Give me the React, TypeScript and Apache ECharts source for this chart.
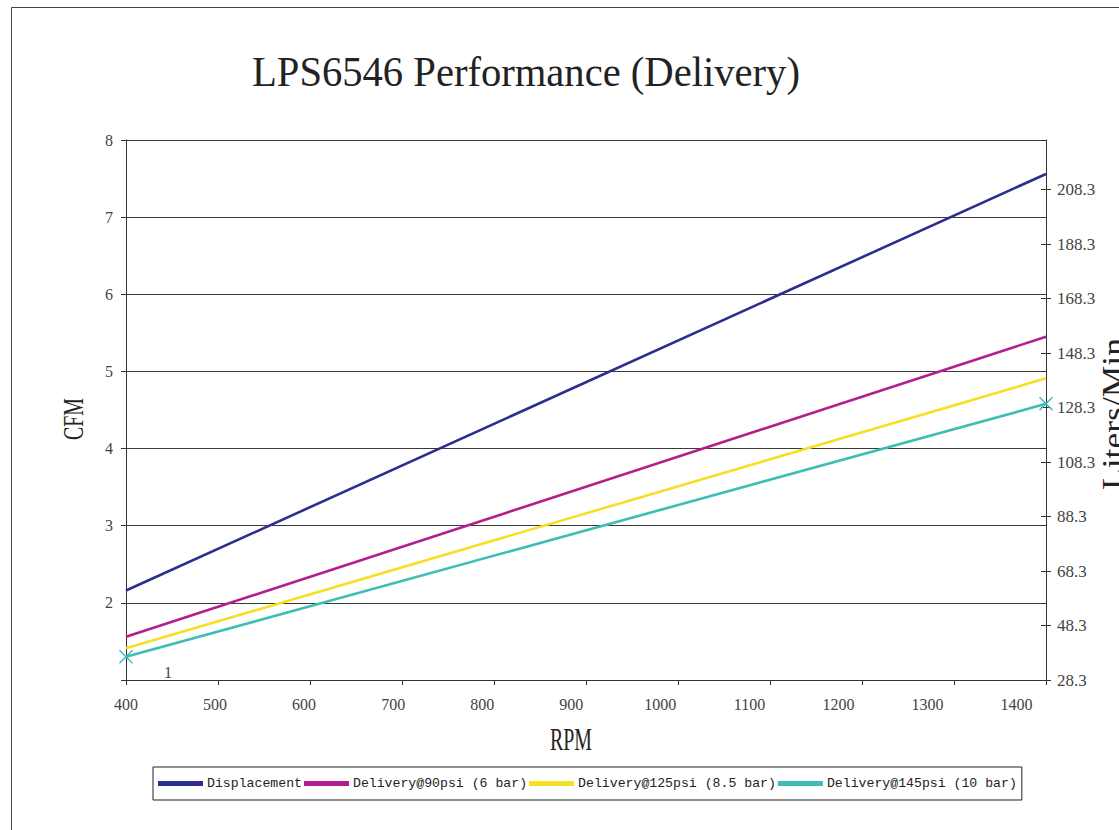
import React, { useEffect, useRef } from "react";
import * as echarts from "echarts";

const rpm = [400, 1400];
const displacement = [2.16, 7.56];
const delivery90 = [1.56, 5.45];
const delivery125 = [1.41, 4.91];
const delivery145 = [1.3, 4.58];

const seriesNames = [
  "Displacement",
  "Delivery@90psi (6 bar)",
  "Delivery@125psi (8.5 bar)",
  "Delivery@145psi (10 bar)",
];
const seriesColors = ["#2B2E8E", "#B41E8C", "#F5E024", "#3DBDB6"];

const titleText = "LPS6546 Performance (Delivery)";
const cfmMin = 1;
const cfmMax = 8;
const litersPerCfm = 28.317;
const litersStep = 20;

const MONO = "'Liberation Mono', monospace";
const SERIF = "'Liberation Serif', serif";

function measure(text: string, size: number, family: string) {
  const c = document.createElement("canvas");
  const ctx = c.getContext("2d");
  if (!ctx) return text.length * size * 0.5;
  ctx.font = `${size}px ${family}`;
  return ctx.measureText(text).width || text.length * size * 0.5;
}

function stretched(
  text: string,
  x: number,
  y: number,
  targetWidth: number,
  size: number,
  align: "left" | "center",
  rotation = 0
) {
  const w = measure(text, size, SERIF);
  return {
    type: "text",
    x,
    y,
    rotation,
    scaleX: targetWidth / w,
    scaleY: 1,
    style: {
      text,
      fontFamily: SERIF,
      fontSize: size,
      fill: "#222",
      align,
      verticalAlign: "middle",
    },
  };
}

export default function App() {
  const ref = useRef<HTMLDivElement>(null);

  useEffect(() => {
    if (!ref.current) return;
    const chart = echarts.init(ref.current, null, { renderer: "svg" });
    const pairs = (ys: number[]) => rpm.map((x, i) => [x, ys[i]]);
    const all = [displacement, delivery90, delivery125, delivery145];

    const rightAxisBase = {
      type: "value" as const,
      position: "right" as const,
      min: cfmMin * litersPerCfm,
      max: cfmMax * litersPerCfm,
      interval: litersStep,
      splitLine: { show: false },
    };

    chart.setOption({
      animation: false,
      backgroundColor: "#fff",
      grid: { left: 126, right: 73, top: 140, bottom: 150, containLabel: false },
      legend: {
        left: 153,
        top: 767,
        orient: "horizontal",
        icon: "rect",
        itemWidth: 43,
        itemHeight: 3,
        itemGap: 2,
        padding: [10, 5, 10, 5],
        borderColor: "#222",
        borderWidth: 1,
        textStyle: { fontFamily: MONO, fontSize: 13.2, color: "#222" },
        data: seriesNames,
      },
      xAxis: [
        {
          type: "value",
          min: 400,
          max: 1400,
          interval: 100,
          axisLine: { show: true, lineStyle: { color: "#333", width: 1 } },
          axisTick: { show: true, inside: false, length: 5, lineStyle: { color: "#333" } },
          axisLabel: { show: false },
          splitLine: { show: false },
        },
        {
          type: "value",
          position: "bottom",
          min: 400,
          max: 1433,
          interval: 100,
          axisLine: { show: false },
          axisTick: { show: false },
          splitLine: { show: false },
          axisLabel: {
            show: true,
            margin: 16,
            showMaxLabel: false,
            fontFamily: SERIF,
            fontSize: 16,
            color: "#444",
            formatter: (v: number) => String(v),
          },
        },
      ],
      yAxis: [
        {
          type: "value",
          position: "left",
          min: cfmMin,
          max: cfmMax,
          interval: 1,
          axisLine: { show: true, lineStyle: { color: "#333", width: 1 } },
          axisTick: { show: true, inside: false, length: 5, lineStyle: { color: "#333" } },
          axisLabel: {
            margin: 13,
            fontFamily: SERIF,
            fontSize: 16,
            color: "#444",
            formatter: (v: number) => (v === cfmMin ? "" : String(v)),
          },
          splitLine: { show: true, lineStyle: { color: "#3a3a3a", width: 1 } },
        },
        {
          ...rightAxisBase,
          axisLine: { show: true, onZero: false, lineStyle: { color: "#333", width: 1 } },
          axisTick: { show: true, inside: false, length: 5, lineStyle: { color: "#333" } },
          axisLabel: {
            margin: 11,
            showMaxLabel: false,
            fontFamily: SERIF,
            fontSize: 17,
            color: "#444",
            formatter: (v: number) => v.toFixed(1),
          },
        },
        {
          ...rightAxisBase,
          axisLine: { show: false },
          axisTick: { show: true, inside: true, length: 5, lineStyle: { color: "#333" } },
          axisLabel: { show: false },
        },
      ],
      series: all.map((ys, i) => ({
        name: seriesNames[i],
        type: "line",
        xAxisIndex: 0,
        yAxisIndex: 0,
        data: pairs(ys),
        symbol: i === 3 ? "path://M0 0L10 10M10 0L0 10" : "none",
        showSymbol: i === 3,
        symbolSize: 13,
        itemStyle: { color: seriesColors[i], borderColor: seriesColors[i], borderWidth: 1.4 },
        lineStyle: { color: seriesColors[i], width: 2.6 },
        emphasis: { disabled: true },
        z: 10 - i,
      })),
      graphic: [
        {
          type: "rect",
          silent: true,
          z: -10,
          shape: { x: 11.5, y: 7.5, width: 1300, height: 1000 },
          style: { fill: "none", stroke: "#444", lineWidth: 1 },
        },
        stretched(titleText, 252, 72, 548, 42, "left"),
        stretched("CFM", 73, 419, 42, 30, "center", Math.PI / 2),
        stretched("RPM", 571, 740, 42, 31, "center"),
        stretched("Liters/Min", 1113, 414, 152, 32, "center", Math.PI / 2),
        {
          type: "text",
          x: 168,
          y: 672,
          style: {
            text: String(cfmMin),
            fontFamily: SERIF,
            fontSize: 16,
            fill: "#444",
            align: "center",
            verticalAlign: "middle",
          },
        },
      ],
    });

    return () => chart.dispose();
  }, []);

  return (
    <div
      ref={ref}
      style={{ position: "fixed", left: 0, top: 0, width: 1119, height: 830, background: "#fff" }}
    />
  );
}
